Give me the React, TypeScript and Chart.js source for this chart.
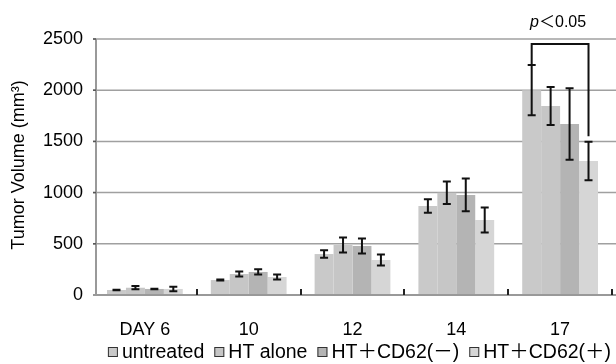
import React, { useEffect, useRef } from 'react';
import { Chart, registerables } from 'chart.js';

Chart.register(...registerables);

const categories = ['DAY 6', '10', '12', '14', '17'];
const seriesNames = ['untreated', 'HT alone', 'HT＋CD62(－)', 'HT＋CD62(＋)'];
const seriesColors = ['#c9c9c9', '#c6c6c6', '#b4b4b4', '#d6d6d6'];

const untreated = [49, 146, 400, 869, 2000];
const htAlone = [71, 205, 488, 999, 1846];
const htCd62Neg = [59, 225, 479, 977, 1670];
const htCd62Pos = [59, 176, 342, 732, 1309];

const untreatedErr = [3, 5, 36, 66, 245];
const htAloneErr = [16, 25, 73, 110, 185];
const htCd62NegErr = [3, 26, 73, 160, 350];
const htCd62PosErr = [22, 24, 54, 122, 188];

const yTickValues = [0, 500, 1000, 1500, 2000, 2500];
const yTitle = 'Tumor Volume (mm³)';

// significance bracket between untreated and HT+CD62(+) on day 17
const sigCategory = 4;
const sigFrom = 0;
const sigTo = 3;
const sigTop = 2450;
const sigRightEnd = 1550;
const sigP = 'p';
const sigText = '＜0.05';

const allValues = [untreated, htAlone, htCd62Neg, htCd62Pos];
const allErrs = [untreatedErr, htAloneErr, htCd62NegErr, htCd62PosErr];

const FONT = '"Liberation Sans", Arial, "Noto Sans CJK JP", sans-serif';

const overlay = {
  id: 'overlay',
  beforeDatasetsDraw(chart: any) {
    const ctx = chart.ctx;
    const y = chart.scales.y;
    const area = chart.chartArea;
    ctx.save();
    // gridlines
    ctx.strokeStyle = '#a0a0a0';
    ctx.lineWidth = 1.5;
    for (const v of yTickValues) {
      const py = y.getPixelForValue(v);
      ctx.beginPath();
      ctx.moveTo(area.left, py);
      ctx.lineTo(chart.width, py);
      ctx.stroke();
    }
    // y axis line and ticks
    const axX = area.left + 3;
    ctx.lineWidth = 2;
    ctx.strokeStyle = '#999';
    ctx.beginPath();
    ctx.moveTo(axX, y.getPixelForValue(2500));
    ctx.lineTo(axX, y.getPixelForValue(0));
    ctx.stroke();
    ctx.strokeStyle = '#555';
    ctx.lineWidth = 1.5;
    for (const v of yTickValues) {
      const py = y.getPixelForValue(v);
      ctx.beginPath();
      ctx.moveTo(area.left, py);
      ctx.lineTo(axX, py);
      ctx.stroke();
    }
    ctx.restore();
  },
  afterDatasetsDraw(chart: any) {
    const ctx = chart.ctx;
    const y = chart.scales.y;
    const area = chart.chartArea;
    ctx.save();
    // x axis line
    ctx.strokeStyle = '#999';
    ctx.lineWidth = 2;
    ctx.beginPath();
    ctx.moveTo(area.left, area.bottom);
    ctx.lineTo(chart.width, area.bottom);
    ctx.stroke();
    // inward category ticks
    const band = (area.right - area.left) / categories.length;
    ctx.strokeStyle = '#222';
    ctx.lineWidth = 2;
    for (let i = 1; i <= categories.length; i++) {
      const px = Math.round(area.left + i * band);
      ctx.beginPath();
      ctx.moveTo(px, area.bottom);
      ctx.lineTo(px, area.bottom - 6);
      ctx.stroke();
    }
    // error bars
    ctx.strokeStyle = '#111';
    ctx.lineWidth = 2;
    allValues.forEach((vals, di) => {
      const meta = chart.getDatasetMeta(di);
      meta.data.forEach((el: any, j: number) => {
        const e = allErrs[di][j];
        const v = vals[j];
        const top = y.getPixelForValue(v + e);
        const bot = y.getPixelForValue(v - e);
        ctx.beginPath();
        ctx.moveTo(el.x, top);
        ctx.lineTo(el.x, bot);
        ctx.moveTo(el.x - 4, top);
        ctx.lineTo(el.x + 4, top);
        ctx.moveTo(el.x - 4, bot);
        ctx.lineTo(el.x + 4, bot);
        ctx.stroke();
      });
    });
    // significance bracket
    const elA = chart.getDatasetMeta(sigFrom).data[sigCategory];
    const elB = chart.getDatasetMeta(sigTo).data[sigCategory];
    const yb = y.getPixelForValue(sigTop);
    const yl = y.getPixelForValue(untreated[sigCategory] + untreatedErr[sigCategory]);
    const yr = y.getPixelForValue(sigRightEnd);
    ctx.beginPath();
    ctx.moveTo(elA.x, yl);
    ctx.lineTo(elA.x, yb);
    ctx.lineTo(elB.x, yb);
    ctx.lineTo(elB.x, yr);
    ctx.stroke();
    // p text
    ctx.fillStyle = '#000';
    ctx.textBaseline = 'alphabetic';
    ctx.font = 'italic 16px ' + FONT;
    const pw = ctx.measureText(sigP).width;
    ctx.font = '16px ' + FONT;
    const tw = ctx.measureText(sigText).width;
    const cx = (elA.x + elB.x) / 2 - 2;
    const sx = cx - (pw + tw) / 2;
    ctx.font = 'italic 16px ' + FONT;
    ctx.fillText(sigP, sx, yb - 17);
    ctx.font = '16px ' + FONT;
    ctx.fillText(sigText, sx + pw, yb - 17);
    ctx.restore();
  },
  afterDraw(chart: any) {
    const ctx = chart.ctx;
    ctx.save();
    // y title
    ctx.fillStyle = '#000';
    ctx.font = '18px ' + FONT;
    ctx.textAlign = 'center';
    ctx.textBaseline = 'middle';
    ctx.translate(19, 165);
    ctx.rotate(-Math.PI / 2);
    ctx.fillText(yTitle, 0, 0);
    ctx.restore();
    // legend
    ctx.save();
    ctx.font = '19.5px ' + FONT;
    ctx.textBaseline = 'middle';
    const box = 10;
    const gapText = 4;
    const gapItem = 10;
    const widths = seriesNames.map((n) => ctx.measureText(n).width);
    const total = widths.reduce((a, w) => a + box + gapText + w, 0) + gapItem * (seriesNames.length - 1);
    let lx = 359.5 - total / 2;
    const ly = 352;
    seriesNames.forEach((n, i) => {
      ctx.fillStyle = seriesColors[i];
      ctx.fillRect(lx, ly - 5, box, box);
      ctx.strokeStyle = '#333';
      ctx.lineWidth = 1;
      ctx.strokeRect(lx + 0.5, ly - 4.5, box - 1, box - 1);
      ctx.fillStyle = '#000';
      ctx.fillText(n, lx + box + gapText, ly + 1);
      lx += box + gapText + widths[i] + gapItem;
    });
    ctx.restore();
  },
};

export default function App() {
  const ref = useRef<HTMLCanvasElement | null>(null);
  useEffect(() => {
    if (!ref.current) return;
    const chart = new Chart(ref.current, {
      type: 'bar',
      data: {
        labels: categories,
        datasets: allValues.map((vals, i) => ({
          label: seriesNames[i],
          data: vals,
          backgroundColor: seriesColors[i],
          borderWidth: 0,
          barPercentage: 1,
          categoryPercentage: 0.73,
        })),
      },
      options: {
        responsive: false,
        animation: false,
        events: [],
        layout: { padding: { left: 0, right: 4, top: 39, bottom: 0 } },
        plugins: { legend: { display: false }, tooltip: { enabled: false }, title: { display: false } },
        scales: {
          x: {
            grid: { display: false, drawTicks: false },
            border: { display: false },
            ticks: { color: '#000', font: { family: FONT, size: 18 }, padding: 24, maxRotation: 0 },
            afterFit: (s: any) => { s.height = 69; },
          },
          y: {
            min: 0,
            max: 2500,
            grid: { display: false, drawTicks: false },
            border: { display: false },
            ticks: {
              stepSize: 500,
              color: '#000',
              font: { family: FONT, size: 18 },
              padding: 10,
              callback: (v: any) => String(v),
            },
            afterFit: (s: any) => { s.width = 93; },
          },
        },
      },
      plugins: [overlay],
    });
    return () => chart.destroy();
  }, []);
  return (
    <div style={{ position: 'fixed', left: 0, top: 0, width: 616, height: 364, background: '#fff' }}>
      <canvas ref={ref} width={616} height={364} style={{ display: 'block' }} />
    </div>
  );
}
